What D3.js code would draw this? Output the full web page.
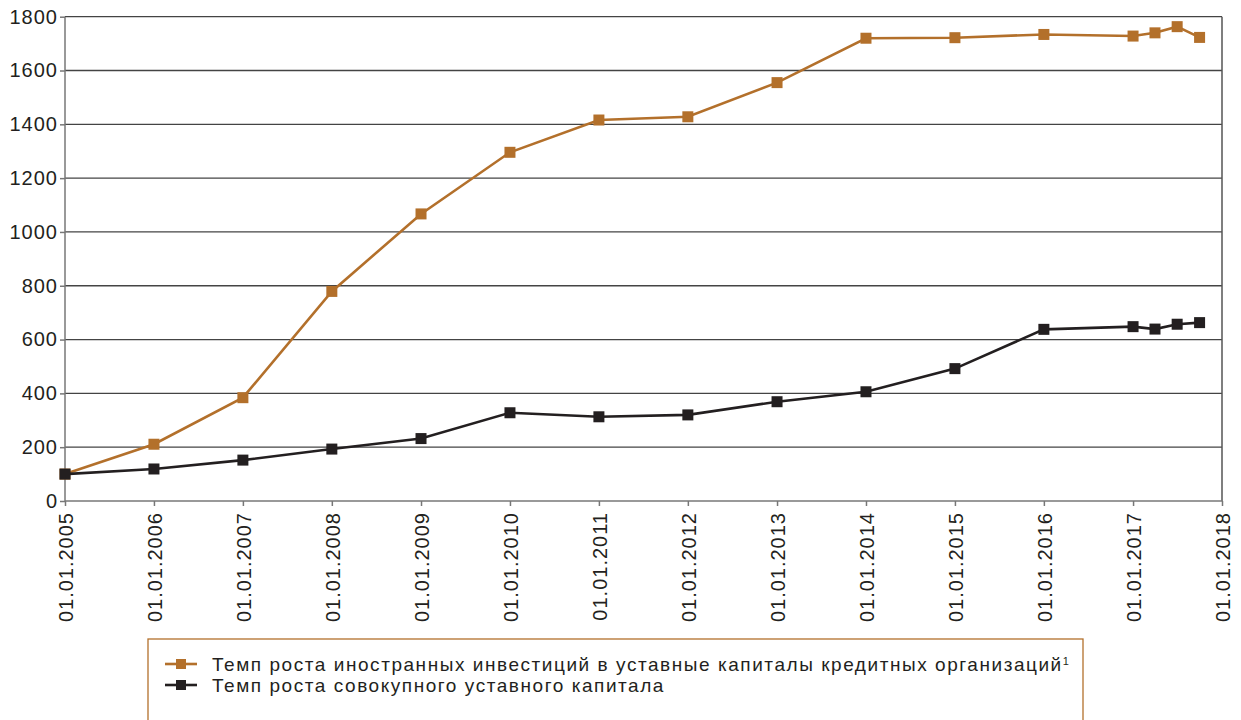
<!DOCTYPE html>
<html>
<head>
<meta charset="utf-8">
<script src="https://cdn.jsdelivr.net/npm/d3@7"></script>
<style>
  body { margin: 0; background: #fff; }
  svg { font-family: "Liberation Sans", Arial, sans-serif; }
  .grid line { stroke: #444; stroke-width: 1.3; }
  .axis text { fill: #231f20; font-size: 20px; letter-spacing: 1px; }
  .axis path, .axis line { stroke: #777; stroke-width: 1.5; }
  .legend text { fill: #231f20; font-size: 19px; letter-spacing: 1.55px; }
</style>
</head>
<body>
<svg width="1241" height="720"></svg>
<script>
const dates = ['2005-01-01', '2006-01-01', '2007-01-01', '2008-01-01', '2009-01-01',
  '2010-01-01', '2011-01-01', '2012-01-01', '2013-01-01', '2014-01-01', '2015-01-01',
  '2016-01-01', '2017-01-01', '2017-04-01', '2017-07-01', '2017-10-01'];
const foreignInv = [100, 211, 384, 779, 1067, 1296, 1416, 1428, 1555, 1720, 1722,
  1734, 1728, 1740, 1763, 1723];
const totalCap = [100, 119, 152, 193, 232, 328, 313, 320, 369, 406, 492,
  638, 648, 639, 657, 663];
const tickYears = d3.range(2005, 2019);
const yTicks = d3.range(0, 1801, 200);
const seriesNames = [
  'Темп роста иностранных инвестиций в уставные капиталы кредитных организаций',
  'Темп роста совокупного уставного капитала'
];
const colors = ['#b3702b', '#231f20'];

const svg = d3.select('svg');
const parse = d3.timeParse('%Y-%m-%d');

const pLeft = 65, pRight = 1222, pTop = 16.7, pBottom = 501;

const x = d3.scaleTime()
  .domain([new Date(2005, 0, 1), new Date(2018, 0, 1)])
  .range([pLeft, pRight]);
const y = d3.scaleLinear()
  .domain([0, 1800])
  .range([pBottom, pTop]);

// gridlines
svg.append('g')
  .attr('class', 'grid')
  .selectAll('line')
  .data(yTicks.filter(d => d > 0))
  .join('line')
  .attr('x1', pLeft).attr('x2', pRight)
  .attr('y1', d => y(d)).attr('y2', d => y(d));

// right border
svg.append('line')
  .attr('x1', pRight).attr('x2', pRight)
  .attr('y1', pTop).attr('y2', pBottom)
  .attr('stroke', '#555').attr('stroke-width', 1.5);

// y axis
const yAxis = svg.append('g')
  .attr('class', 'axis')
  .attr('transform', `translate(${pLeft},0)`)
  .call(d3.axisLeft(y).tickValues(yTicks).tickSize(5).tickPadding(2).tickFormat(d3.format('d')));
yAxis.select('.domain').attr('d', `M0,${pTop}V${pBottom}`);

// x axis
const xAxis = svg.append('g')
  .attr('class', 'axis')
  .attr('transform', `translate(0,${pBottom})`)
  .call(d3.axisBottom(x)
    .tickValues(tickYears.map(yr => new Date(yr, 0, 1)))
    .tickSize(5)
    .tickFormat(d3.timeFormat('%d.%m.%Y')));
xAxis.select('.domain').attr('d', `M${pLeft},0H${pRight}`);
xAxis.selectAll('text')
  .attr('transform', 'rotate(-90)')
  .attr('text-anchor', 'end')
  .attr('x', -11)
  .attr('y', 0)
  .attr('dy', '0.36em');

// lines
const series = [foreignInv, totalCap];
const line = d3.line()
  .x((d, i) => x(parse(dates[i])))
  .y(d => y(d));

[0, 1].forEach(s => {
  const g = svg.append('g');
  g.append('path')
    .datum(series[s])
    .attr('fill', 'none')
    .attr('stroke', colors[s])
    .attr('stroke-width', 2.6)
    .attr('d', line);
  g.selectAll('rect')
    .data(series[s])
    .join('rect')
    .attr('x', (d, i) => x(parse(dates[i])) - 5.5)
    .attr('y', d => y(d) - 5.5)
    .attr('width', 11)
    .attr('height', 11)
    .attr('fill', colors[s]);
});

// legend
const legend = svg.append('g').attr('class', 'legend');
legend.append('rect')
  .attr('x', 148).attr('y', 639)
  .attr('width', 935).attr('height', 100)
  .attr('fill', 'none')
  .attr('stroke', '#b3702b')
  .attr('stroke-width', 1.3);

seriesNames.forEach((name, i) => {
  const cy = 664 + i * 21;
  legend.append('line')
    .attr('x1', 165).attr('x2', 197)
    .attr('y1', cy).attr('y2', cy)
    .attr('stroke', colors[i]).attr('stroke-width', 2.6);
  legend.append('rect')
    .attr('x', 176).attr('y', cy - 5)
    .attr('width', 10).attr('height', 10)
    .attr('fill', colors[i]);
  const t = legend.append('text')
    .attr('x', 212).attr('y', cy)
    .attr('dy', '0.35em')
    .text(name);
  if (i === 0) {
    t.append('tspan')
      .attr('dy', '-0.5em')
      .attr('font-size', '11px')
      .text('1');
  }
});
</script>
</body>
</html>
